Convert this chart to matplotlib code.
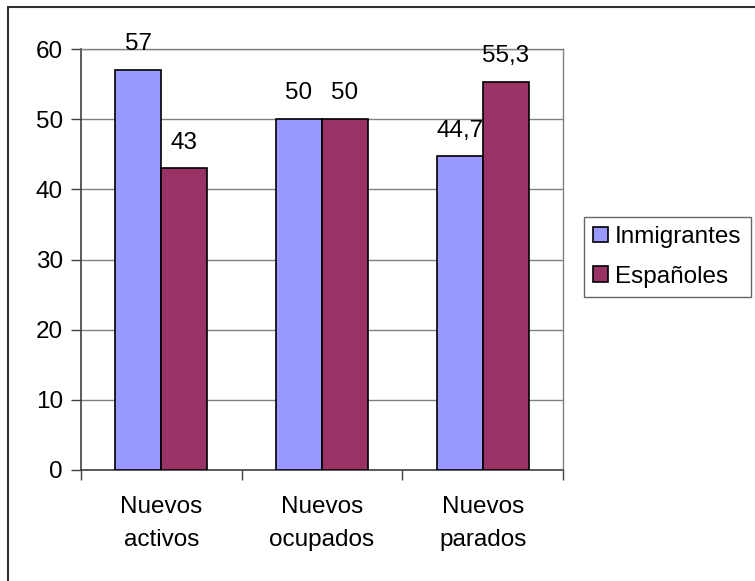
import matplotlib
matplotlib.use("Agg")
import matplotlib.pyplot as plt
from matplotlib.patches import Rectangle
import numpy as np

# datos
categorias = ["Nuevos\nactivos", "Nuevos\nocupados", "Nuevos\nparados"]
inmigrantes = [57, 50, 44.7]
espanoles = [43, 50, 55.3]
series = ["Inmigrantes", "Españoles"]
yticks = [0, 10, 20, 30, 40, 50, 60]

plt.rcParams['font.family'] = ['Liberation Sans', 'DejaVu Sans']
FS = 17.5

fig = plt.figure(figsize=(7.55, 5.81), dpi=100)
W, H = 755, 581
ax = fig.add_axes([81 / W, 1 - 470 / H, (563 - 81) / W, (470 - 49) / H])

x = np.arange(len(categorias))
width = 0.286
b1 = ax.bar(x - width / 2, inmigrantes, width=width, color="#9999ff",
            edgecolor="black", linewidth=1.2, label=series[0], zorder=3)
b2 = ax.bar(x + width / 2, espanoles, width=width, color="#993366",
            edgecolor="black", linewidth=1.2, label=series[1], zorder=3)

# etiquetas de valores con coma decimal
for bars, vals in [(b1, inmigrantes), (b2, espanoles)]:
    for rect, v in zip(bars, vals):
        txt = ("%g" % v).replace(".", ",")
        ax.annotate(txt, (rect.get_x() + rect.get_width() / 2, v),
                    xytext=(0, 18.5), textcoords="offset points",
                    ha="center", va="center", fontsize=FS)

ax.set_xlim(-0.5, 2.5)
ax.set_ylim(0, 60)
ax.set_yticks(yticks)
ax.yaxis.grid(True, color="#808080", linewidth=1, zorder=0)

ax.set_xticks(x)
ax.set_xticklabels(categorias, fontsize=FS, linespacing=1.6)
ax.set_xticks([-0.5, 0.5, 1.5, 2.5], minor=True)
ax.tick_params(axis="x", which="major", length=0, pad=19)
ax.tick_params(axis="x", which="minor", length=7, color="#404040", width=1)
ax.tick_params(axis="y", length=7, color="#404040", width=1, labelsize=FS, pad=6)

for s in ["left", "bottom"]:
    ax.spines[s].set_color("#404040")
    ax.spines[s].set_linewidth(1.2)
for s in ["right", "top"]:
    ax.spines[s].set_color("#808080")
    ax.spines[s].set_linewidth(1)

leg = ax.legend(loc="upper left", bbox_to_anchor=(584 / W, 1 - 217 / H),
                bbox_transform=fig.transFigure, fontsize=FS, frameon=True,
                fancybox=False, edgecolor="#404040", handlelength=0.6,
                handleheight=0.6, handletextpad=0.3, labelspacing=0.72,
                borderpad=0.38, borderaxespad=0)
leg.get_frame().set_linewidth(1)

# marco exterior del gráfico
fig.patches.append(Rectangle((8 / W, -0.1), 1.2, 1.1 - 7 / H, transform=fig.transFigure,
                             fill=False, edgecolor="#303030", linewidth=1.5))

fig.savefig("out.png", dpi=100)
